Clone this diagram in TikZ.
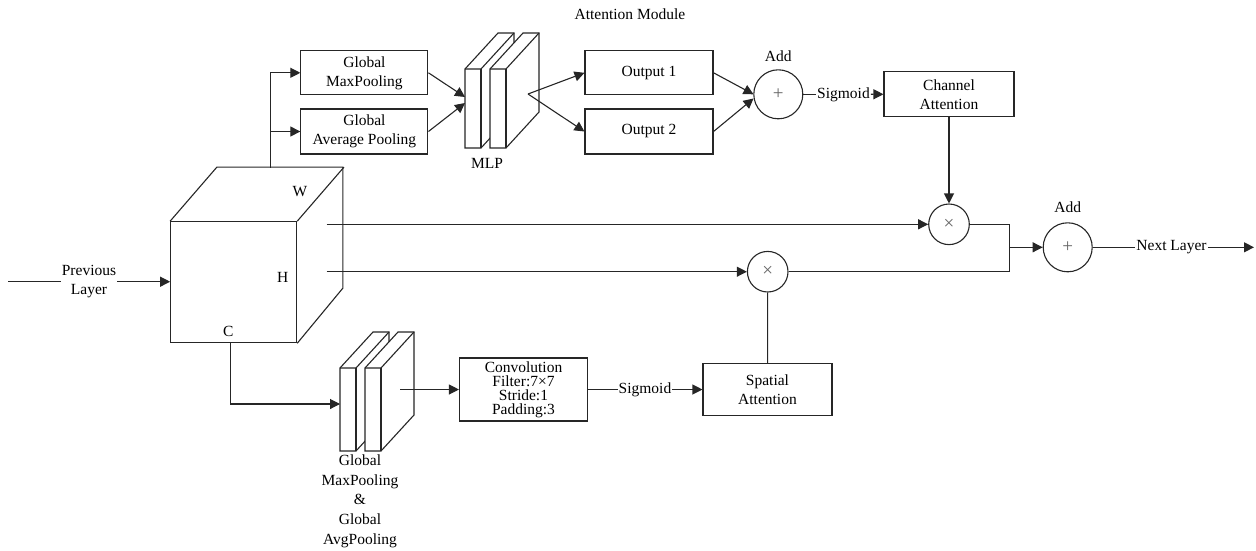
\documentclass[tikz,border=0pt]{standalone}
\usepackage{fontspec}
\setmainfont{Liberation Serif}
\usetikzlibrary{positioning}
\usetikzlibrary{arrows.meta}
\tikzset{
    boxnode/.style = {rectangle, draw=black!85, line width=1.1pt, align=center, fill=white, inner sep=0pt, font=\fontsize{15.5}{19}\selectfont, text=black},
    opnode/.style = {circle, draw=black!85, line width=1.1pt, fill=white, inner sep=0pt, font=\fontsize{19}{19}\selectfont, text=black!60},
    textnode/.style = {align=center, inner sep=1pt, font=\fontsize{15.5}{19.5}\selectfont, text=black},
    edgen/.style = {-, line width=1.1pt, black!85},
    edgea/.style = {-{Triangle[length=10pt,width=10pt]}, line width=1.1pt, black!85},
    pics/slab/.style = {code = {
        \draw[edgen, fill=white] (0,0) -- (33,-36) -- (49,-36) -- (49,#1-36) -- (16,#1) -- (0,#1) -- cycle;
        \draw[edgen] (0,0) -- (16,0) -- (49,-36);
        \draw[edgen] (16,0) -- (16,#1);
    }}
}

\begin{document}
\begin{tikzpicture}[x=1pt,y=-1pt]
\path[use as bounding box] (0,0) rectangle (1256,550);
\node[textnode] at (630, 14) (title) {Attention Module};
% input cube
\node[boxnode, fill=none, minimum width=126pt, minimum height=121pt] at (233.7, 282.2) (cube) {};
\draw[edgen] (cube.north west) -- ++(46.7,-54) -- ++(126,0) -- ++(0,121) -- (cube.south east);
\draw[edgen] (cube.north east) -- ++(46.7,-54);
\node[textnode] at (300, 191.7) (wlab) {W};
\node[textnode] at (282.7, 277.7) (hlab) {H};
\node[textnode] at (228.3, 331) (clab) {C};
\coordinate (start) at (8, 281.7);
\node[textnode] at (89, 281.7) (prev) {Previous\\Layer};
\draw[edgen] (start) -- (prev.west);
\draw[edgea] (prev.east) -- (prev.east -| cube.west);
%
% channel branch
\coordinate (up) at (270.7, 167.7);
\node[boxnode, minimum width=127pt, minimum height=44pt] at (364.4, 72.8) (maxp) {Global\\MaxPooling};
\node[boxnode, minimum width=127pt, minimum height=45pt] at (364.4, 131.5) (avgp) {Global\\Average Pooling};
\draw[edgea] (up) |- (maxp.west);
\draw[edgea] (up |- avgp.west) -- (avgp.west);
\pic at (465, 69) {slab=79};
\pic at (490, 69) {slab=79};
\node[textnode] at (487, 163) (mlp) {MLP};
\coordinate (mlpina) at (465, 97);
\coordinate (mlpinb) at (465, 103);
\coordinate (mlpout) at (528, 94);
\draw[edgea] (maxp.east) -- (mlpina);
\draw[edgea] (avgp.east) -- (mlpinb);
\node[boxnode, minimum width=128pt, minimum height=44pt] at (649, 72.8) (out1) {Output 1};
\node[boxnode, minimum width=128pt, minimum height=45pt] at (649, 131.5) (out2) {Output 2};
\draw[edgea] (mlpout) -- (out1.west);
\draw[edgea] (mlpout) -- (out2.west);
\node[opnode, minimum size=49pt] at (778.3, 94.3) (adda) {+};
\node[textnode] at (778.3, 56) (addalab) {Add};
\coordinate (addina) at (753.5, 94.3);
\coordinate (addinb) at (753.5, 98.5);
\draw[edgea] (out1.east) -- (addina);
\draw[edgea] (out2.east) -- (addinb);
\node[textnode] at (843.5, 94.3) (siga) {Sigmoid};
\node[boxnode, minimum width=130pt, minimum height=45pt] at (949, 94.2) (chan) {Channel\\Attention};
\draw[edgen] (adda) -- (siga);
\draw[edgea] (siga) -- (chan);
%
% products and output
\node[opnode, minimum size=40.6pt] at (949, 224.3) (mula) {×};
\node[opnode, minimum size=40.6pt] at (767.7, 271.7) (mulb) {×};
\coordinate (wout) at (326.7, 224.3);
\coordinate (hout) at (326.7, 271.7);
\draw[edgea] (chan) -- (mula);
\draw[edgea] (wout) -- (mula);
\draw[edgea] (hout) -- (mulb);
\node[opnode, minimum size=49pt] at (1067.7, 247.3) (addb) {+};
\node[textnode] at (1067.7, 206.7) (addblab) {Add};
\draw[edgen] (mula.east) -- ++(40,0) coordinate (merge) |- (mulb.east);
\draw[edgea] (merge |- addb.west) -- (addb.west);
\node[textnode] at (1171.5, 247.3) (next) {Next Layer};
\coordinate (end) at (1254, 247.3);
\draw[edgen] (addb) -- (next);
\draw[edgea] (next) -- (end);
%
% spatial branch
\coordinate (down) at (230.7, 342.7);
\coordinate (poolin) at (340, 404);
\draw[edgea] (down) |- (poolin);
\pic at (340, 368) {slab=83};
\pic at (365, 368) {slab=83};
\node[textnode, font=\fontsize{15.5}{19.7}\selectfont] at (360, 501) (poollab) {Global\\MaxPooling\\\&\\Global\\AvgPooling};
\coordinate (poolout) at (400, 389.5);
\node[boxnode, minimum width=128pt, minimum height=63pt, font=\fontsize{15.5}{14}\selectfont] at (523.5, 389.5) (conv) {Convolution\\Filter:7×7\\Stride:1\\Padding:3};
\draw[edgea] (poolout) -- (conv.west);
\node[textnode] at (645, 389.5) (sigb) {Sigmoid};
\node[boxnode, minimum width=129pt, minimum height=52pt] at (767.5, 389.5) (spat) {Spatial\\Attention};
\draw[edgen] (conv) -- (sigb);
\draw[edgea] (sigb) -- (spat);
\draw[edgen] (spat) -- (mulb);
\end{tikzpicture}
\end{document}
